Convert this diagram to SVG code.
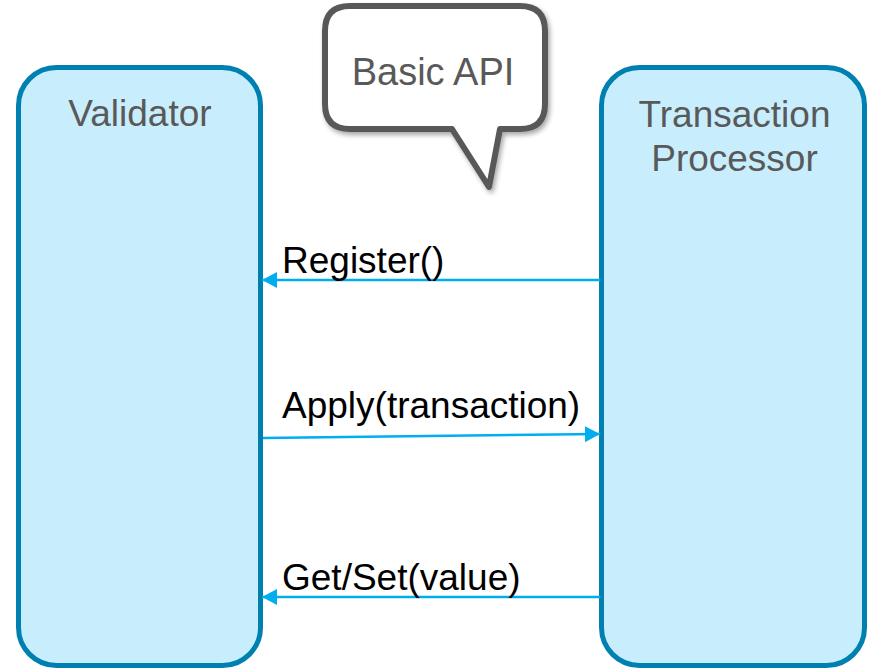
<svg xmlns="http://www.w3.org/2000/svg" width="870" height="671" viewBox="0 0 870 671">
<style>
.box{fill:#C8EEFD;stroke:#0080B0;stroke-width:5}
.title{font-family:"Liberation Sans",Arial,sans-serif;font-size:37px;fill:#595959;text-anchor:middle}
.lbl{font-family:"Liberation Sans",Arial,sans-serif;font-size:37px;fill:#000}
.conn{stroke:#00AEEF;stroke-width:2.5;fill:none}
</style>
<defs>
<marker id="ah" markerWidth="16" markerHeight="16" refX="15" refY="8" orient="auto" markerUnits="userSpaceOnUse">
<path d="M0,0 L15,8 L0,16 Z" fill="#00AEEF"/>
</marker>
<filter id="sh" x="-10%" y="-10%" width="130%" height="130%">
<feGaussianBlur in="SourceAlpha" stdDeviation="2.5"/>
<feOffset dx="2" dy="3" result="b"/>
<feComponentTransfer><feFuncA type="linear" slope="0.35"/></feComponentTransfer>
<feMerge><feMergeNode/><feMergeNode in="SourceGraphic"/></feMerge>
</filter>
</defs>
<g id="validator">
<rect class="box" x="18.5" y="67.5" width="242" height="598" rx="38"/>
<text class="title" x="140" y="126">Validator</text>
</g>
<g id="transaction-processor">
<rect class="box" x="601.5" y="67.5" width="263" height="598" rx="38"/>
<text class="title" x="734.5" y="127">Transaction</text>
<text class="title" x="734.5" y="171">Processor</text>
</g>
<g id="basic-api">
<path filter="url(#sh)" d="M350,6 L520,6 Q545,6 545,31 L545,104 Q545,129 520,129 L500,129 L489,187 L452,129 L350,129 Q325,129 325,104 L325,31 Q325,6 350,6 Z" fill="#fff" stroke="#595959" stroke-width="6" stroke-linejoin="round"/>
<text class="title" x="433" y="85" style="font-size:38px">Basic API</text>
</g>
<g id="connectors">
<line class="conn" x1="600" y1="280" x2="262" y2="280" marker-end="url(#ah)"/>
<line class="conn" x1="263" y1="438" x2="600" y2="434" marker-end="url(#ah)"/>
<line class="conn" x1="600" y1="597" x2="262" y2="597" marker-end="url(#ah)"/>
<text class="lbl" x="282" y="273">Register()</text>
<text class="lbl" x="282" y="418">Apply(transaction)</text>
<text class="lbl" x="282" y="590">Get/Set(value)</text>
</g>
</svg>
